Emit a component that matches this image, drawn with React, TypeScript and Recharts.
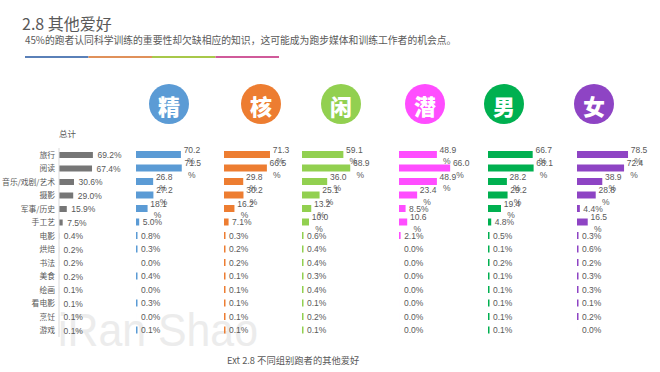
import React from 'react';
import { BarChart, Bar, XAxis, YAxis, LabelList } from 'recharts';

const categories = ['旅行', '阅读', '音乐/戏剧/艺术', '摄影', '军事/历史', '手工艺', '电影', '烘焙', '书法', '美食', '绘画', '看电影', '烹饪', '游戏'];
const totalValues = [69.2, 67.4, 30.6, 29.0, 15.9, 7.5, 0.4, 0.2, 0.2, 0.2, 0.1, 0.1, 0.1, 0.1];
const eliteValues = [70.2, 71.5, 26.8, 27.2, 18.1, 5.0, 0.8, 0.3, 0.0, 0.4, 0.0, 0.3, 0.0, 0.1];
const coreValues = [71.3, 66.5, 29.8, 30.2, 16.2, 7.1, 0.3, 0.2, 0.2, 0.1, 0.1, 0.1, 0.1, 0.1];
const casualValues = [59.1, 68.9, 36.0, 25.1, 13.2, 10.0, 0.6, 0.4, 0.4, 0.3, 0.4, 0.1, 0.2, 0.1];
const potentialValues = [48.9, 66.0, 48.9, 23.4, 8.5, 10.6, 2.1, 0.0, 0.0, 0.0, 0.0, 0.0, 0.0, 0.0];
const maleValues = [66.7, 68.1, 28.2, 29.2, 19.4, 4.8, 0.5, 0.1, 0.2, 0.1, 0.1, 0.1, 0.1, 0.1];
const femaleValues = [78.5, 72.4, 38.9, 28.8, 4.4, 16.5, 0.3, 0.6, 0.2, 0.3, 0.3, 0.1, 0.2, 0.0];

const groupNames = ['精', '核', '闲', '潜', '男', '女'];
const groupColors = ['#5b9bd5', '#ed7d31', '#92d050', '#ff4dff', '#00b050', '#8e44c4'];
const groupValues = [eliteValues, coreValues, casualValues, potentialValues, maleValues, femaleValues];

const title = '2.8 其他爱好';
const subtitle = '45%的跑者认同科学训练的重要性却欠缺相应的知识，这可能成为跑步媒体和训练工作者的机会点。';
const totalLabel = '总计';
const footer = 'Ext 2.8 不同组别跑者的其他爱好';
const watermark = 'iRan Shao';
const stripeColors = ['#5a80b8', '#e0915a', '#a8c84a', '#d05a9a'];

// layout of each small panel (bar start x, plot width for 0-100%)
const panelLayout = [
  { left: 136, plot: 64, cx: 169 },
  { left: 224, plot: 64.5, cx: 261 },
  { left: 302, plot: 70, cx: 341 },
  { left: 399, plot: 77.5, cx: 425 },
  { left: 488, plot: 67, cx: 504 },
  { left: 577, plot: 65, cx: 594 },
];

const FONT = '"Liberation Sans", "Noto Sans CJK SC", sans-serif';
const CJK = '"Noto Sans CJK SC", "Liberation Sans", sans-serif';
const TXT = '#595959';
const PAD = 12;
const CHART_TOP = 148 - PAD;
const CHART_H = 189 + PAD;

const makeRows = (vals: number[]) => categories.map((c, i) => ({ name: c, v: vals[i] }));

const groupLabel = (props: any) => {
  const { x, y, width, height, value } = props;
  const cy = y + height / 2;
  const end = x + (value > 0 ? Math.max(width, 1.5) : 1.5);
  const txt = value.toFixed(1);
  if (value >= 10) {
    const mx = end + 11;
    return (
      <g fontFamily={FONT} fontSize={8.5} fill={TXT}>
        <text x={mx} y={cy - 5} textAnchor="middle" dominantBaseline="central">{txt}</text>
        <text x={mx - 1} y={cy + 6.5} textAnchor="middle" dominantBaseline="central">%</text>
      </g>
    );
  }
  return (
    <text x={end + 3.5} y={cy} fontFamily={FONT} fontSize={8.5} fill={TXT} dominantBaseline="central">
      {txt + '%'}
    </text>
  );
};

const totalLabelFn = (props: any) => {
  const { x, y, width, height, value } = props;
  const cy = y + height / 2;
  return (
    <text x={x + width + 4.5} y={cy} fontFamily={FONT} fontSize={8.5} fill={TXT} dominantBaseline="central">
      {value.toFixed(1) + '%'}
    </text>
  );
};

const minSize = (v: any) => (v > 0 ? 1.5 : 0.01);

export default function App() {
  const totalRows = makeRows(totalValues);
  return (
    <div style={{ position: 'absolute', left: 0, top: 0, width: 660, height: 372, background: '#fff', overflow: 'hidden' }}>
      <svg width={660} height={372} style={{ position: 'absolute', left: 0, top: 0 }}>
        <text x={58} y={346} fontFamily={FONT} fontSize={46} fill="#ececec" textLength={200} lengthAdjust="spacingAndGlyphs">{watermark}</text>
        <text x={22} y={30} fontFamily={CJK} fontSize={16} fill={TXT}>{title}</text>
        <text x={25} y={44} fontFamily={CJK} fontSize={9.8} fill={TXT}>{subtitle}</text>
        {stripeColors.map((c, i) => (
          <rect key={c} x={25 + i * 63.5} y={56} width={63.5} height={2} fill={c} />
        ))}
        {groupNames.map((g, i) => (
          <g key={g}>
            <circle cx={panelLayout[i].cx} cy={104} r={20} fill={groupColors[i]} />
            <text x={panelLayout[i].cx} y={105} textAnchor="middle" dominantBaseline="central" fontFamily={CJK} fontWeight={900} fontSize={22} fill="#fff">{g}</text>
          </g>
        ))}
        <text x={59} y={133} fontFamily={CJK} fontSize={8.5} fill={TXT} dominantBaseline="central">{totalLabel}</text>
        <text x={227} y={360} fontFamily={CJK} fontSize={9.3} fill={TXT} dominantBaseline="central">{footer}</text>
      </svg>

      <div style={{ position: 'absolute', left: 0, top: CHART_TOP }}>
        <BarChart layout="vertical" width={59 + 49 + 40} height={CHART_H} data={totalRows} margin={{ top: PAD, right: 40, bottom: 0, left: 0 }}>
          <XAxis type="number" domain={[0, 100]} hide />
          <YAxis
            type="category"
            dataKey="name"
            width={59}
            interval={0}
            axisLine={{ stroke: '#d9d9d9' }}
            tickLine={false}
            tickSize={2}
            tickMargin={2}
            tick={{ fontSize: 7.8, fill: TXT, fontFamily: CJK }}
          />
          <Bar dataKey="v" fill="#767676" barSize={6} isAnimationActive={false}>
            <LabelList dataKey="v" content={totalLabelFn} />
          </Bar>
        </BarChart>
      </div>

      {groupValues.map((vals, i) => (
        <div key={groupNames[i]} style={{ position: 'absolute', left: panelLayout[i].left, top: CHART_TOP }}>
          <BarChart layout="vertical" width={panelLayout[i].plot + 40} height={CHART_H} data={makeRows(vals)} margin={{ top: PAD, right: 40, bottom: 0, left: 0 }}>
            <XAxis type="number" domain={[0, 100]} hide />
            <YAxis type="category" dataKey="name" hide />
            <Bar dataKey="v" fill={groupColors[i]} barSize={7} minPointSize={minSize} isAnimationActive={false}>
              <LabelList dataKey="v" content={groupLabel} />
            </Bar>
          </BarChart>
        </div>
      ))}
    </div>
  );
}
